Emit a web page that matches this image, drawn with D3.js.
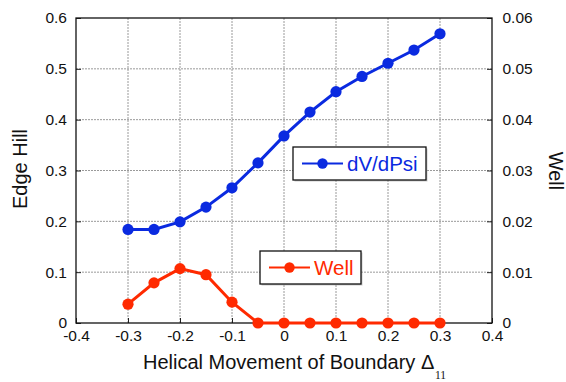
<!DOCTYPE html>
<html>
<head>
<meta charset="utf-8">
<script src="https://cdn.jsdelivr.net/npm/d3@7"></script>
<style>
  body { margin: 0; background: #fff; }
  text { font-family: "Liberation Sans", Arial, sans-serif; fill: #111; }
</style>
</head>
<body>
<svg id="chart" width="566" height="382"></svg>
<script>
// values
const movement = [-0.3, -0.25, -0.2, -0.15, -0.1, -0.05, 0, 0.05, 0.1, 0.15, 0.2, 0.25, 0.3];
const dVdPsi = [0.184, 0.184, 0.199, 0.228, 0.266, 0.315, 0.368, 0.415, 0.455, 0.485, 0.511, 0.537, 0.569];
const well = [0.0037, 0.0079, 0.0107, 0.0095, 0.0041, 0, 0, 0, 0, 0, 0, 0, 0];
const xTicks = [-0.4, -0.3, -0.2, -0.1, 0, 0.1, 0.2, 0.3, 0.4];
const leftTicks = [0, 0.1, 0.2, 0.3, 0.4, 0.5, 0.6];
const rightTicks = [0, 0.01, 0.02, 0.03, 0.04, 0.05, 0.06];

const plotL = 76, plotR = 492, plotT = 18, plotB = 323;
const blue = "#0a2ae0", red = "#ff2a00";

const svg = d3.select("#chart");

const x = d3.scaleLinear().domain([-0.4, 0.4]).range([plotL, plotR]);
const yL = d3.scaleLinear().domain([0, 0.6]).range([plotB, plotT]);
const yR = d3.scaleLinear().domain([0, 0.06]).range([plotB, plotT]);

// grid
const grid = svg.append("g").attr("class", "grid");
grid.selectAll("line.vx")
  .data(xTicks.slice(1, -1))
  .enter().append("line")
  .attr("x1", d => x(d)).attr("x2", d => x(d))
  .attr("y1", plotT).attr("y2", plotB)
  .style("stroke", "#808080").style("stroke-width", 0.8).style("stroke-dasharray", "2,1");
grid.selectAll("line.hy")
  .data(leftTicks.slice(1, -1))
  .enter().append("line")
  .attr("x1", plotL).attr("x2", plotR)
  .attr("y1", d => yL(d)).attr("y2", d => yL(d))
  .style("stroke", "#808080").style("stroke-width", 0.8).style("stroke-dasharray", "2,1");

// axes (plain hyphen for negatives, like the original)
const fmt = d => String(d);
const axisStyle = g => {
  g.select(".domain").remove();
  g.selectAll(".tick line").style("stroke", "#222");
  g.selectAll(".tick text").style("font-size", "15.5px").style("font-family", "Liberation Sans, Arial, sans-serif").style("fill", "#111");
};

svg.append("g")
  .attr("transform", "translate(0," + plotB + ")")
  .call(d3.axisBottom(x).tickValues(xTicks).tickFormat(fmt).tickSizeInner(-5).tickPadding(7))
  .call(axisStyle);

svg.append("g")
  .attr("transform", "translate(" + plotL + ",0)")
  .call(d3.axisLeft(yL).tickValues(leftTicks).tickFormat(fmt).tickSizeInner(-5).tickPadding(9))
  .call(axisStyle);

svg.append("g")
  .attr("transform", "translate(" + plotR + ",0)")
  .call(d3.axisRight(yR).tickValues(rightTicks).tickFormat(fmt).tickSizeInner(-5).tickPadding(10.5))
  .call(axisStyle);

// frame
svg.append("rect")
  .attr("x", plotL).attr("y", plotT)
  .attr("width", plotR - plotL).attr("height", plotB - plotT)
  .style("fill", "none").style("stroke", "#111").style("stroke-width", 1.3);

// series
const lineL = d3.line().x((d, i) => x(movement[i])).y(d => yL(d));
const lineR = d3.line().x((d, i) => x(movement[i])).y(d => yR(d));

function drawSeries(values, line, yScale, color) {
  svg.append("path")
    .datum(values)
    .attr("d", line)
    .style("fill", "none").style("stroke", color).style("stroke-width", 3);
  svg.append("g").selectAll("circle")
    .data(values)
    .enter().append("circle")
    .attr("cx", (d, i) => x(movement[i]))
    .attr("cy", d => yScale(d))
    .attr("r", 5.6)
    .style("fill", color);
}
drawSeries(dVdPsi, lineL, yL, blue);
drawSeries(well, lineR, yR, red);

// legends
function legend(bx, by, bw, bh, color, label) {
  const g = svg.append("g").attr("transform", "translate(" + bx + "," + by + ")");
  g.append("rect").attr("x", 1.5).attr("y", 1.5).attr("width", bw).attr("height", bh)
    .style("fill", "#999").style("opacity", 0.5);
  g.append("rect").attr("width", bw).attr("height", bh)
    .style("fill", "#fff").style("stroke", "#111").style("stroke-width", 1.3);
  g.append("line").attr("x1", 9).attr("x2", 50).attr("y1", bh / 2).attr("y2", bh / 2)
    .style("stroke", color).style("stroke-width", 2.2);
  g.append("circle").attr("cx", 29.5).attr("cy", bh / 2).attr("r", 5.2).style("fill", color);
  g.append("text").attr("x", 54).attr("y", bh / 2 + 7.3)
    .style("font-size", "20.5px").style("fill", color).text(label);
}
legend(293, 147, 133, 33, blue, "dV/dPsi");
legend(260, 251, 101, 33, red, "Well");

// axis titles
svg.append("text")
  .attr("x", 143).attr("y", 369)
  .style("font-size", "20px")
  .text("Helical Movement of Boundary \u0394");
svg.append("text")
  .attr("x", 435).attr("y", 379)
  .style("font-size", "11.5px").style("font-family", "Liberation Serif, Times New Roman, serif")
  .text("11");

svg.append("text")
  .attr("transform", "translate(27,169) rotate(-90)")
  .attr("text-anchor", "middle")
  .style("font-size", "20px")
  .text("Edge Hill");

svg.append("text")
  .attr("transform", "translate(549,171) rotate(90)")
  .attr("text-anchor", "middle")
  .style("font-size", "20px")
  .text("Well");
</script>
</body>
</html>
